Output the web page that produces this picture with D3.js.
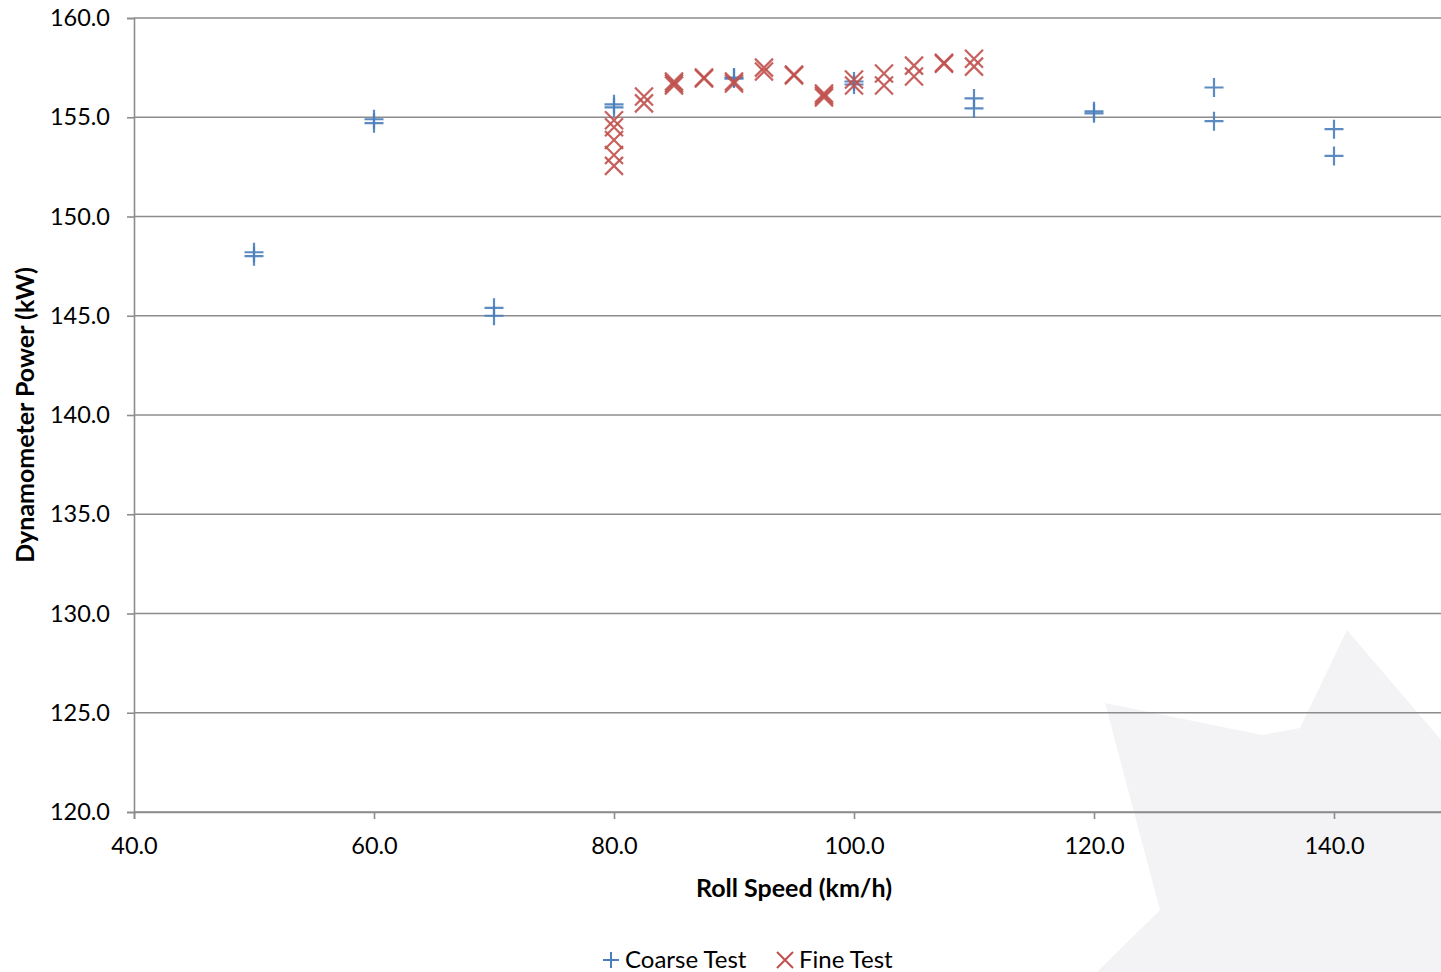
<!DOCTYPE html>
<html>
<head>
<meta charset="utf-8">
<script src="https://cdn.jsdelivr.net/npm/d3@7"></script>
<style>
html,body{margin:0;padding:0;background:#fff;}
svg{display:block;font-family:Lato,"Open Sans",sans-serif;}
</style>
</head>
<body>
<svg id="chart" width="1441" height="972"></svg>
<script>
// ---- data ----
const coarseX = [50, 50, 60, 60, 70, 70, 80, 80, 90, 90, 100, 100, 110, 110, 120, 120, 130, 130, 140, 140];
const coarseY = [148.2, 148.0, 154.9, 154.7, 145.4, 145.0, 155.65, 155.5, 157.0, 156.95, 156.8, 156.65, 155.95, 155.45, 155.3, 155.2, 156.5, 154.8, 154.4, 153.05];

const fineX = [80, 80, 80, 80, 80, 82.5, 82.5, 85, 85, 85, 87.5, 87.5, 90, 90, 92.5, 92.5, 95, 95, 97.5, 97.5, 97.5, 100, 100, 102.5, 102.5, 105, 105, 107.5, 107.5, 110, 110];
const fineY = [154.85, 154.5, 153.85, 153.1, 152.55, 156.05, 155.7, 156.8, 156.7, 156.6, 157.0, 156.95, 156.8, 156.7, 157.5, 157.3, 157.15, 157.1, 156.2, 156.1, 156.0, 156.9, 156.6, 157.2, 156.6, 157.6, 157.05, 157.7, 157.75, 157.95, 157.55];

const xTicks = [40, 60, 80, 100, 120, 140];
const yTicks = [120, 125, 130, 135, 140, 145, 150, 155, 160];
const seriesNames = ["Coarse Test", "Fine Test"];
const seriesColors = ["#4a7ebb", "#c0504d"];

// ---- layout ----
const svg = d3.select("#chart");
const x = d3.scaleLinear().domain([40, 150]).range([134, 1454]);
const y = d3.scaleLinear().domain([120, 160]).range([812, 18]);

// watermark (decorative)
svg.append("path")
  .attr("d", "M1105,703 L1262,735 L1300,728 L1347,630 L1441,740 L1441,972 L1097,972 L1160,910 Z")
  .attr("fill", "#f3f3f5");

const gridColor = "#8c8c8c";

// gridlines
svg.append("g").selectAll("line").data(yTicks).join("line")
  .attr("x1", x(40)).attr("x2", x(150))
  .attr("y1", d => y(d)).attr("y2", d => y(d))
  .attr("stroke", gridColor).attr("stroke-width", 1.6);

// y axis
const yAxis = d3.axisLeft(y).tickValues(yTicks).tickFormat(d3.format(".1f")).tickSize(7).tickPadding(8);
const gy = svg.append("g").attr("transform", `translate(${x(40)},0)`).call(yAxis);
gy.select(".domain").attr("stroke", gridColor).attr("stroke-width", 1.6);
gy.selectAll(".tick line").attr("stroke", gridColor).attr("stroke-width", 1.6);
gy.selectAll(".tick text").attr("font-size", 23.5).attr("fill", "#000").attr("font-family", "Lato, sans-serif").attr("dx", -9);

// x axis
const xAxis = d3.axisBottom(x).tickValues(xTicks).tickFormat(d3.format(".1f")).tickSize(7).tickPadding(18);
const gx = svg.append("g").attr("transform", `translate(0,${y(120)})`).call(xAxis);
gx.select(".domain").attr("stroke", gridColor).attr("stroke-width", 1.6);
gx.selectAll(".tick line").attr("stroke", gridColor).attr("stroke-width", 1.6);
gx.selectAll(".tick text").attr("font-size", 23.5).attr("fill", "#000").attr("font-family", "Lato, sans-serif");

// axis titles
svg.append("text").attr("x", 794).attr("y", 897).attr("text-anchor", "middle")
  .attr("font-size", 25).attr("font-weight", "bold").text("Roll Speed (km/h)");
svg.append("text").attr("transform", "translate(34,415) rotate(-90)").attr("text-anchor", "middle")
  .attr("font-size", 25).attr("font-weight", "bold").text("Dynamometer Power (kW)");

// markers
const plusPath = s => `M${-s},0H${s}M0,${-s}V${s}`;
const crossPath = s => `M${-s},${-s}L${s},${s}M${-s},${s}L${s},${-s}`;

const coarse = coarseX.map((v, i) => ({x: v, y: coarseY[i]}));
const fine = fineX.map((v, i) => ({x: v, y: fineY[i]}));

svg.append("g").selectAll("path").data(coarse).join("path")
  .attr("transform", d => `translate(${x(d.x)},${y(d.y)})`)
  .attr("d", plusPath(9.5)).attr("fill", "none")
  .attr("stroke", seriesColors[0]).attr("stroke-width", 2.2).attr("stroke-opacity", 0.9);

svg.append("g").selectAll("path").data(fine).join("path")
  .attr("transform", d => `translate(${x(d.x)},${y(d.y)})`)
  .attr("d", crossPath(9)).attr("fill", "none")
  .attr("stroke", seriesColors[1]).attr("stroke-width", 2.2).attr("stroke-opacity", 0.9);

// legend
const leg = svg.append("g");
const legItems = [{name: seriesNames[0], color: seriesColors[0], path: plusPath(8), mx: 611, tx: 625},
                  {name: seriesNames[1], color: seriesColors[1], path: crossPath(8), mx: 785, tx: 799}];
legItems.forEach(it => {
  leg.append("path").attr("transform", `translate(${it.mx},960)`).attr("d", it.path)
    .attr("fill", "none").attr("stroke", it.color).attr("stroke-width", 2);
  leg.append("text").attr("x", it.tx).attr("y", 968).attr("font-size", 24).attr("fill", "#000").text(it.name);
});
</script>
</body>
</html>
